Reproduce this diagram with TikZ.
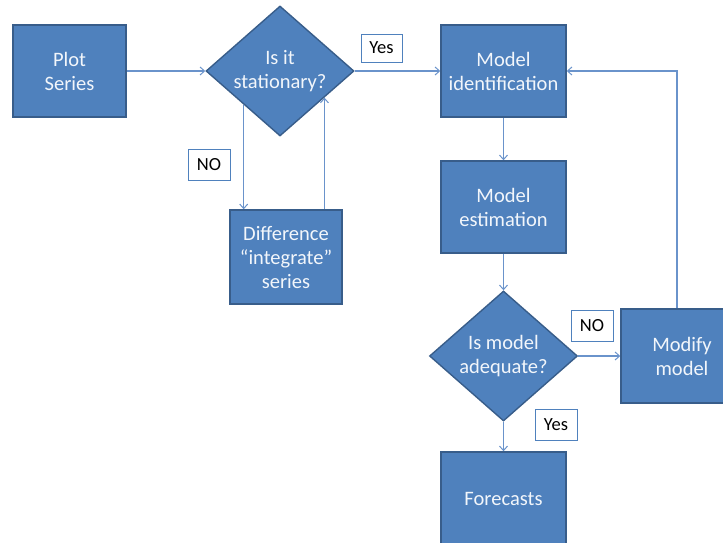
\documentclass[tikz,border=0pt]{standalone}
\usepackage{fontspec}
\setmainfont{Carlito}
\usetikzlibrary{shapes.geometric,calc,backgrounds,arrows.meta}

\definecolor{boxfill}{HTML}{4F81BD}
\definecolor{boxline}{HTML}{385D8A}
\definecolor{boxtext}{HTML}{F2F6FB}
\definecolor{wire}{HTML}{6A93CB}
\definecolor{tagline}{HTML}{4F81BD}

\tikzset{
  x=1pt, y=-1pt,
  stepbox/.style={draw=boxline, line width=1.4pt, fill=boxfill, text=boxtext,
    align=center, inner sep=0pt, font=\fontsize{20.5}{24}\selectfont,
    minimum width=#1},
  stepbox/.default=125pt,
  decision/.style={diamond, draw=boxline, line width=1.4pt, fill=boxfill,
    text=boxtext, align=center, inner sep=0pt, aspect=1.14,
    minimum width=148pt, minimum height=130pt,
    font=\fontsize{20.5}{24}\selectfont},
  tag/.style={draw=tagline, line width=0.8pt, fill=white, text=black,
    inner sep=0pt, minimum width=42pt, minimum height=31pt,
    font=\fontsize{18.5}{20}\selectfont},
  wireline/.style={draw=wire, line width=1.2pt},
  flow/.style={wireline, -{Straight Barb[length=4.5pt,width=8pt,line width=1pt]}},
}

\begin{document}
\begin{tikzpicture}
\useasboundingbox (0,0) rectangle (723,542);

% process steps
\node[stepbox=113pt, minimum height=92pt] (plot) at (69.5,71) {Plot\\Series};
\node[decision] (stat) at (280,71) {Is it\\stationary?};
\node[stepbox, minimum height=92pt] (ident) at (503.5,71) {Model\\identification};
\node[stepbox=112pt, minimum height=94pt] (diff) at (286,257) {Difference\\“integrate”\\series};
\node[stepbox, minimum height=92pt] (est) at (503.5,207) {Model\\estimation};
\node[decision] (adeq) at (503.5,356) {Is model\\adequate?};
\node[stepbox=122pt, minimum height=94pt] (mod) at (682,356) {Modify\\model};
\node[stepbox, minimum height=94pt] (fore) at (503.5,499) {Forecasts};

% branch labels
\node[tag, minimum width=41pt, minimum height=28pt] (yes1) at (381.5,48) {Yes};
\node[tag] (no1) at (209,165) {NO};
\node[tag] (no2) at (592,326) {NO};
\node[tag] (yes2) at (556,425) {Yes};

% points where the loop to the differencing step meets the first diamond
\coordinate (dnstart) at ($(stat.west)!0.514!(stat.south)$);
\coordinate (upend) at ($(stat.east)!0.405!(stat.south)$);
\coordinate (fbstart) at ($(mod.north)+(-5,0)$);

\begin{scope}[on background layer]
  \draw[flow] (plot.east) -- (stat.west);
  \draw[flow] (stat.east) -- (ident.west);
  \draw[flow] (dnstart) -- (dnstart |- diff.north);
  \draw[flow] (upend |- diff.north) -- (upend);
  \draw[flow] (ident.south) -- (est.north);
  \draw[flow] (est.south) -- (adeq.north);
  \draw[flow] (adeq.east) -- (mod.west);
  \draw[flow] (adeq.south) -- (fore.north);
  \draw[flow] (fbstart) |- (ident.east);
\end{scope}
\end{tikzpicture}
\end{document}
